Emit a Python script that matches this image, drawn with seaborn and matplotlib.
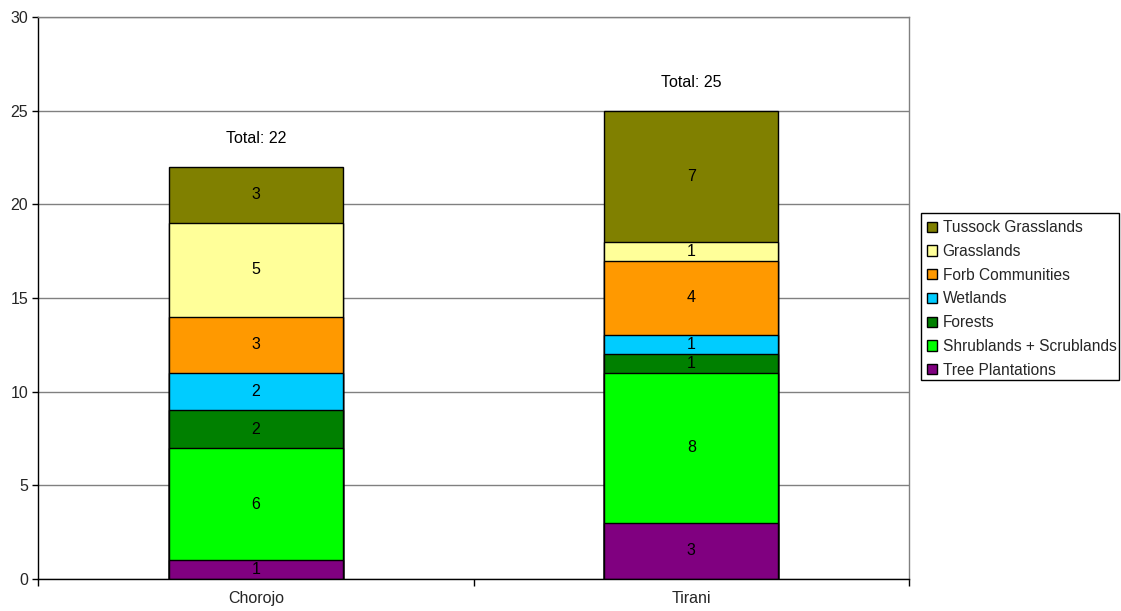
import numpy as np
import pandas as pd
import matplotlib
matplotlib.use("Agg")
import matplotlib.pyplot as plt
import seaborn as sns
from matplotlib.patches import Patch, Rectangle

sites = ["Chorojo", "Tirani"]
categories = [
    "Tree Plantations",
    "Shrublands + Scrublands",
    "Forests",
    "Wetlands",
    "Forb Communities",
    "Grasslands",
    "Tussock Grasslands",
]
chorojo = [1, 6, 2, 2, 3, 5, 3]
tirani = [3, 8, 1, 1, 4, 1, 7]
colors = ["#800080", "#00FF00", "#008000", "#00CCFF", "#FF9900", "#FFFF99", "#808000"]

sns.set_style("white")
plt.rcParams["font.family"] = ["Liberation Sans", "DejaVu Sans"]
FS = 11.5

counts = pd.DataFrame({"Chorojo": chorojo, "Tirani": tirani}, index=categories)
cum = counts.cumsum()
totals = counts.sum()

fig = plt.figure(figsize=(11.21, 6.11), dpi=100)
ax = fig.add_axes([0.0339, 0.0524, 0.7770, 0.9198])
ax.set_axisbelow(True)

# stacked bars: draw cumulative heights from the top layer down so each covers the next
for i in reversed(range(len(categories))):
    sns.barplot(x=sites, y=cum.iloc[i].values, order=sites, color=colors[i],
                saturation=1, width=0.4, edgecolor="black", linewidth=1,
                errorbar=None, ax=ax)

# segment values and totals
for j, site in enumerate(sites):
    bottoms = cum[site].values - counts[site].values
    for i, v in enumerate(counts[site].values):
        ax.text(j, bottoms[i] + v / 2, f"{v}", ha="center", va="center",
                fontsize=FS, color="black")
    ax.text(j, totals[site] + 1.5, f"Total: {totals[site]}", ha="center",
            va="center", fontsize=FS, color="black")

ax.set_xlim(-0.5, 1.5)
ax.set_ylim(0, 30)
ax.set_yticks(np.arange(0, 31, 5))
ax.yaxis.grid(True, color="#808080", linewidth=1)
ax.set_xlabel("")
ax.set_ylabel("")

ax.set_xticks([0, 1])
ax.set_xticklabels(sites)
ax.set_xticks([-0.5, 0.5, 1.5], minor=True)
ax.tick_params(axis="x", which="major", length=0, pad=9, labelsize=FS)
ax.tick_params(axis="x", which="minor", length=5, width=1, color="black", direction="out", bottom=True)
ax.tick_params(axis="y", length=4, width=1, color="black", direction="out", left=True,
               pad=3, labelsize=FS)

for s in ["left", "bottom"]:
    ax.spines[s].set_color("black")
    ax.spines[s].set_linewidth(1)
for s in ["top", "right"]:
    ax.spines[s].set_visible(True)
    ax.spines[s].set_color("#808080")
    ax.spines[s].set_linewidth(1)

# legend box
fig.patches.append(Rectangle((0.8216, 0.3781), 0.9982 - 0.8216, 0.6514 - 0.3781,
                             transform=fig.transFigure, facecolor="white",
                             edgecolor="black", linewidth=1, zorder=0))
handles = [Patch(facecolor=colors[i], edgecolor="black", linewidth=1, label=categories[i])
           for i in reversed(range(len(categories)))]
leg = fig.legend(handles=handles, loc="upper left", bbox_to_anchor=(0.8269, 0.6394),
                 bbox_transform=fig.transFigure, frameon=False,
                 fontsize=11.2, handlelength=0.65, handleheight=0.65,
                 handletextpad=0.35, labelspacing=0.56, borderpad=0, borderaxespad=0)

fig.savefig("out.png", dpi=100)
